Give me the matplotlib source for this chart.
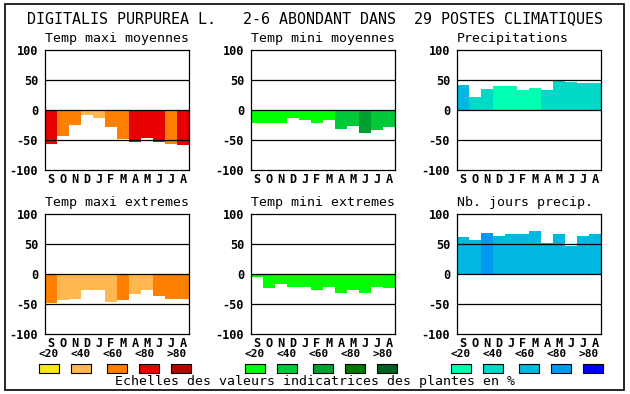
import matplotlib
matplotlib.use("Agg")
import matplotlib.pyplot as plt
import numpy as np
from matplotlib.patches import Rectangle

# data
months = ["S", "O", "N", "D", "J", "F", "M", "A", "M", "J", "J", "A"]

temp_maxi_moy = [-57, -44, -25, -8, -14, -28, -48, -53, -47, -53, -56, -58]
temp_maxi_moy_cls = [3, 2, 2, 1, 1, 2, 2, 3, 3, 3, 2, 3]

temp_mini_moy = [-22, -22, -22, -14, -16, -22, -16, -31, -26, -38, -34, -28]
temp_mini_moy_cls = [0, 0, 0, 0, 0, 0, 0, 1, 1, 2, 1, 1]

precip = [42, 22, 35, 40, 40, 33, 37, 33, 48, 47, 45, 45]
precip_cls = [2, 1, 1, 0, 0, 0, 0, 1, 1, 1, 1, 1]

temp_maxi_ext = [-49, -44, -42, -27, -27, -47, -44, -34, -26, -37, -42, -42]
temp_maxi_ext_cls = [2, 1, 1, 1, 1, 1, 2, 1, 1, 2, 2, 2]

temp_mini_ext = [-5, -24, -16, -21, -22, -26, -21, -31, -26, -31, -21, -24]
temp_mini_ext_cls = [0] * 12

jours_precip = [62, 56, 68, 64, 66, 66, 71, 52, 66, 47, 64, 66]
jours_precip_cls = [2, 2, 3, 2, 2, 2, 2, 2, 2, 2, 2, 2]

yticks = [100, 50, 0, -50, -100]
classes = ["<20", "<40", "<60", "<80", ">80"]

warm = ["#f8e818", "#ffb850", "#ff8000", "#e80000", "#b00800"]
green = ["#00ff00", "#00c838", "#00a030", "#007800", "#006020"]
blue = ["#00ffb0", "#00d8c8", "#00b8e0", "#0098f0", "#0000f8"]

panels = [
    ("Temp maxi moyennes", temp_maxi_moy, temp_maxi_moy_cls, warm),
    ("Temp mini moyennes", temp_mini_moy, temp_mini_moy_cls, green),
    ("Precipitations", precip, precip_cls, blue),
    ("Temp maxi extremes", temp_maxi_ext, temp_maxi_ext_cls, warm),
    ("Temp mini extremes", temp_mini_ext, temp_mini_ext_cls, green),
    ("Nb. jours precip.", jours_precip, jours_precip_cls, blue),
]

W, H = 630, 394
MONO = "DejaVu Sans Mono"
plt.rcParams["font.family"] = MONO


def fx(x):
    return x / W


def fy(y):
    return 1 - y / H


fig = plt.figure(figsize=(W / 100, H / 100), dpi=100)
fig.patch.set_facecolor("white")

# outer frame
fig.add_artist(Rectangle((fx(5), fy(390)), fx(619), 386 / H, transform=fig.transFigure,
                         fill=False, edgecolor="black", lw=1.2))

fig.text(fx(27), fy(23), "DIGITALIS PURPUREA L.   2-6 ABONDANT DANS  29 POSTES CLIMATIQUES",
         fontsize=10.8, ha="left", va="baseline")

lefts = [45, 251, 457]
tops = [50, 214]
aw, ah = 144, 120

for i, (title, vals, cls, pal) in enumerate(panels):
    left = lefts[i % 3]
    top = tops[i // 3]
    ax = fig.add_axes([fx(left), fy(top + ah), aw / W, ah / H])
    ax.bar(np.arange(12), vals, width=1, align="edge",
           color=[pal[c] for c in cls], zorder=2)
    for v in (50, 0, -50):
        ax.axhline(v, color="black", lw=0.9, zorder=3)
    ax.set_xlim(0, 12)
    ax.set_ylim(-100, 100)
    ax.set_yticks(yticks)
    ax.set_yticklabels([str(t) for t in yticks], fontsize=8.6, fontweight="bold")
    ax.set_xticks(np.arange(12) + 0.5)
    ax.set_xticklabels(months, fontsize=8.6, fontweight="bold")
    ax.tick_params(length=0)
    ax.tick_params(axis="y", pad=5)
    ax.tick_params(axis="x", pad=2)
    for s in ax.spines.values():
        s.set_linewidth(0.9)
        s.set_zorder(4)
    fig.text(fx(left), fy(top - 8), title, fontsize=9.5, ha="left", va="baseline")

    # class legend below the bottom row
    if i >= 3:
        for k, (lab, col) in enumerate(zip(classes, pal)):
            lab_x = left - 6 + 32 * k + 10
            box_x = left - 6 + 32 * k + (4 if k >= 2 else 0)
            fig.text(fx(lab_x), fy(354), lab, fontsize=8,
                     fontweight="bold", ha="center", va="center")
            fig.add_artist(Rectangle((fx(box_x), fy(373)), 20 / W, 9 / H,
                                     transform=fig.transFigure, facecolor=col,
                                     edgecolor="black", lw=0.8))

fig.text(fx(315), fy(382), "Echelles des valeurs indicatrices des plantes en %",
         fontsize=9.5, ha="center", va="center")

fig.savefig("out.png", dpi=100)
